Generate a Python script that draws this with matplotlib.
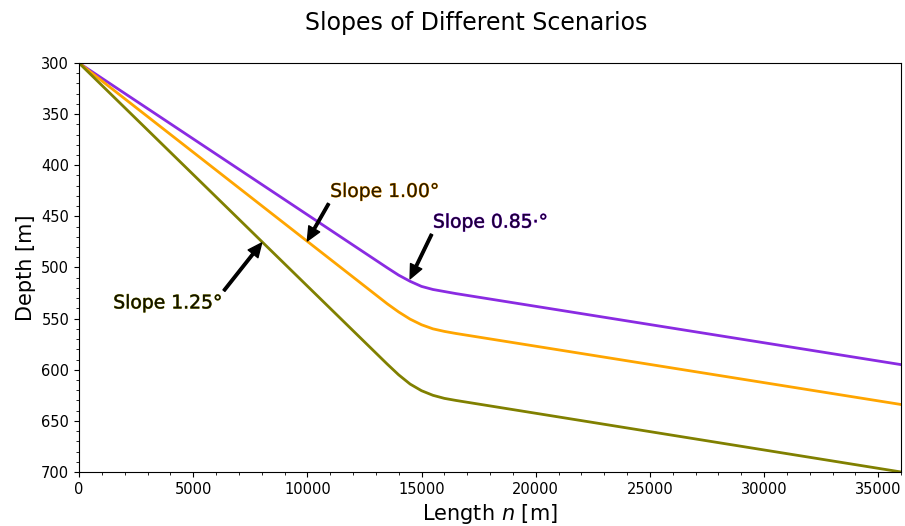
import matplotlib
matplotlib.use("Agg")
import matplotlib.pyplot as plt
import matplotlib.patheffects as pe
from matplotlib.ticker import MultipleLocator

# Data
length_x = [0, 13500, 14000, 14500, 15000, 15500, 16000, 16500, 36000]
depth_085 = [300, 500.3, 507.5, 513.5, 518.5, 521.5, 523.5, 525.5, 595.0]
depth_100 = [300, 535.5, 543.5, 550.5, 556.0, 560.0, 562.5, 564.5, 634.0]
depth_125 = [300, 594.5, 605.0, 614.0, 620.5, 625.0, 628.0, 630.0, 700.0]

labels = ["Slope 0.85·°", "Slope 1.00°", "Slope 1.25°"]
colors = ["blueviolet", "orange", "olive"]

fig = plt.figure(figsize=(9.05, 5.26), dpi=100)
ax = fig.add_axes([0.0873, 0.1027, 0.9083, 0.7775])

for d, c in zip([depth_085, depth_100, depth_125], colors):
    ax.plot(length_x, d, color=c, lw=2)

ax.set_xlim(0, 36000)
ax.set_ylim(700, 300)
ax.xaxis.set_major_locator(MultipleLocator(5000))
ax.xaxis.set_minor_locator(MultipleLocator(1000))
ax.yaxis.set_major_locator(MultipleLocator(50))
ax.yaxis.set_minor_locator(MultipleLocator(10))
ax.tick_params(labelsize=10.5)

ax.set_title("Slopes of Different Scenarios", fontsize=17, pad=24, x=0.4836)
ax.set_xlabel("Length $n$ [m]", fontsize=15)
ax.set_ylabel("Depth [m]", fontsize=15)

arrow = dict(facecolor="black", edgecolor="black", width=1.8, headwidth=9,
             headlength=10, shrink=0.0)

ann = [
    (labels[1], (10000, 474), (11000, 431), colors[1], "#2a1a00"),
    (labels[0], (14500, 511), (15500, 461), colors[0], "#1a0033"),
    (labels[2], (8000, 476), (1500, 540), colors[2], "#111100"),
]
for txt, xy, xyt, c, tc in ann:
    ax.annotate(txt, xy=xy, xytext=xyt, fontsize=13.5, color=tc,
                arrowprops=arrow,
                path_effects=[pe.withStroke(linewidth=0.5, foreground=c)])

fig.savefig("out.png", dpi=100)
